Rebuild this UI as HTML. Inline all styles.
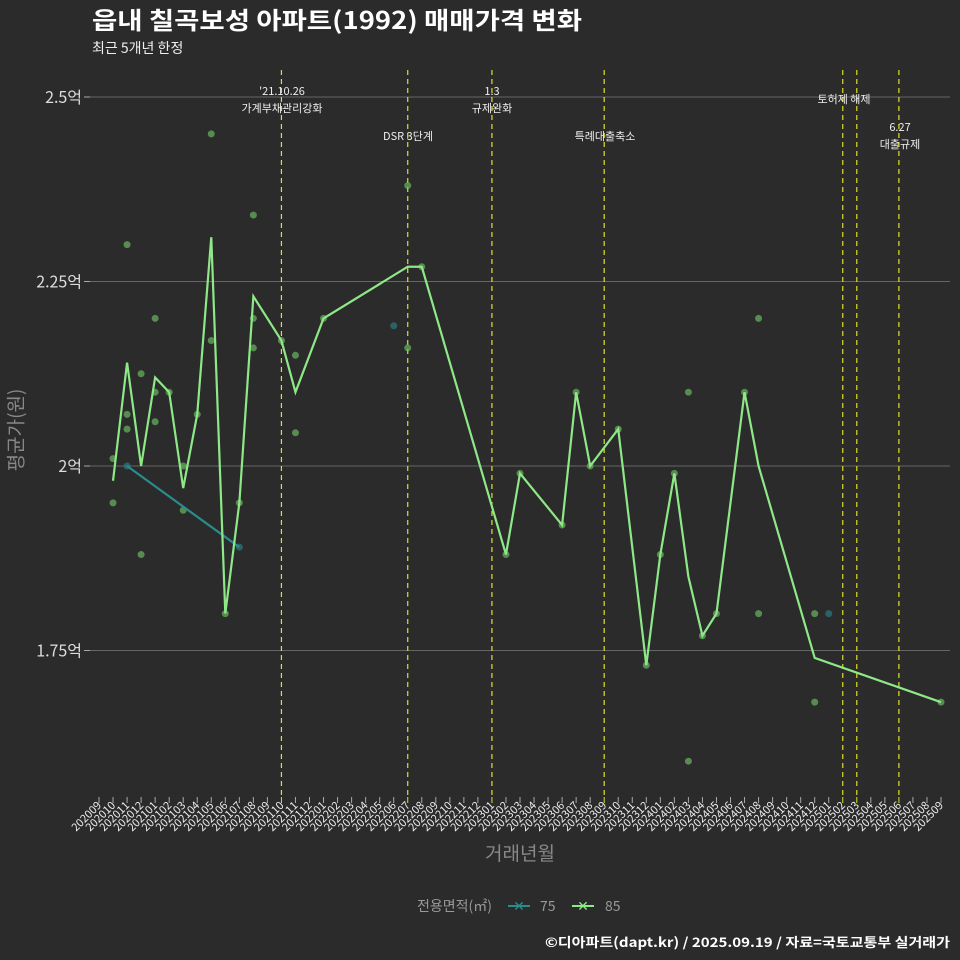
<!DOCTYPE html>
<html><head><meta charset="utf-8">
<style>
body{margin:0;background:#2b2b2b;}
svg{display:block;font-family:"Noto Sans CJK KR","Liberation Sans",sans-serif;}
</style></head>
<body>
<svg id="chart" width="960" height="960" viewBox="0 0 960 960">
<rect width="960" height="960" fill="#2b2b2b"/>
<text x="92" y="29" fill="#fff" font-size="24" font-weight="bold" textLength="490" lengthAdjust="spacingAndGlyphs">읍내 칠곡보성 아파트(1992) 매매가격 변화</text>
<text x="92" y="53" fill="#eee" font-size="14">최근 5개년 한정</text>
<g id="grid"></g>
<g id="events"></g>
<g id="marks"></g>
<g id="xaxis"></g>
<text x="15" y="430" fill="#888" font-size="19" transform="rotate(-90 15 430)" text-anchor="middle" dominant-baseline="central">평균가(원)</text>
<text x="520" y="860" fill="#888" font-size="19" text-anchor="middle">거래년월</text>
<g>
<text x="417" y="911" fill="#999" font-size="14">전용면적(㎡)</text>
<g><line x1="508" y1="906" x2="530" y2="906" stroke="#2a8c8c" stroke-width="2"/><text x="519" y="911" fill="#2a8c8c" font-size="14" text-anchor="middle">✕</text><text x="540" y="911" fill="#999" font-size="14">75</text></g>
<g><line x1="572" y1="906" x2="594" y2="906" stroke="#8ee887" stroke-width="2"/><text x="583" y="911" fill="#8ee887" font-size="14" text-anchor="middle">✕</text><text x="605" y="911" fill="#999" font-size="14">85</text></g>
</g>
<text x="950" y="947" fill="#fff" font-size="13" font-weight="bold" text-anchor="end" textLength="405" lengthAdjust="spacingAndGlyphs">©디아파트(dapt.kr) / 2025.09.19 / 자료=국토교통부 실거래가</text>
</svg>
<script>
const months=[];for(let y=2020;y<=2025;y++)for(let m=1;m<=12;m++){const v=y*100+m;if(v>=202009&&v<=202509)months.push(String(v));}
const yTicks=[1.75,2,2.25,2.5];
const yTickLabels=["1.75억","2억","2.25억","2.5억"];
const line85Idx=[1,2,3,4,5,6,7,8,9,10,11,13,14,16,22,23,29,30,33,34,35,37,39,40,41,42,43,44,46,47,51,60];
const line85Val=[1.98,2.14,2.0,2.12,2.10,1.97,2.07,2.31,1.80,1.95,2.23,2.17,2.10,2.20,2.27,2.27,1.88,1.99,1.92,2.10,2.0,2.05,1.73,1.88,1.99,1.85,1.77,1.80,2.10,2.0,1.74,1.68];
const pts85Idx=[1,1,2,2,2,3,3,4,4,4,5,6,6,7,8,8,9,10,11,11,11,13,14,14,16,22,22,23,29,30,33,34,35,37,39,40,41,42,42,43,44,46,47,47,51,51,60];
const pts85Val=[2.01,1.95,2.30,2.07,2.05,2.125,1.88,2.2,2.1,2.06,2.1,2.0,1.94,2.07,2.45,2.17,1.80,1.95,2.34,2.2,2.16,2.17,2.15,2.045,2.2,2.38,2.16,2.27,1.88,1.99,1.92,2.10,2.0,2.05,1.73,1.88,1.99,2.10,1.60,1.77,1.80,2.10,2.2,1.80,1.80,1.68,1.68];
const line75Idx=[2,10];
const line75Val=[2.0,1.89];
const pts75Idx=[2,10,21,52];
const pts75Val=[2.0,1.89,2.19,1.80];
const eventIdx=[13,22,28,36,53,54,57];
const NS="http://www.w3.org/2000/svg";
const x=i=>99+i*(941-99)/60;
const y=v=>466-(v-2)*738;
function mk(tag,attrs,parent,txt){const e=document.createElementNS(NS,tag);for(const k in attrs)e.setAttribute(k,attrs[k]);if(txt!==undefined)e.textContent=txt;parent.appendChild(e);return e;}
const grid=document.getElementById('grid'),ev=document.getElementById('events'),marks=document.getElementById('marks'),xa=document.getElementById('xaxis');
yTicks.forEach((t,k)=>{
 const g=mk('line',{x1:90,x2:950,y1:y(t),y2:y(t),stroke:'#666','stroke-width':1},grid);
 
 
 mk('line',{x1:84,x2:90,y1:y(t),y2:y(t),stroke:'#aaa'},grid);
 const l=mk('text',{x:82,y:y(t)+6,fill:'#ddd','font-size':16,'text-anchor':'end'},grid,yTickLabels[k]);
 
 
});
months.forEach((m,i)=>{
 mk('line',{x1:x(i),x2:x(i),y1:797,y2:803,stroke:eventIdx.includes(i)?'#dde02a':'#aaa'},xa);
 const t=mk('text',{x:x(i)+3,y:806,fill:'#eee','font-size':11,'text-anchor':'end',transform:`rotate(-45 ${x(i)+3} 806)`},xa,m);
 
 
});
eventIdx.forEach((i,k)=>{
 const l=mk('line',{x1:x(i),x2:x(i),y1:70,y2:797,stroke:'#dde02a','stroke-width':1.2,'stroke-dasharray':'5,4'},ev);
 
 
});
const ann=[[282,95,"'21.10.26"],[282,112,"가계부채관리강화"],[408,140,"DSR 3단계"],[492,95,"1.3"],[492,112,"규제완화"],[605,140,"특례대출축소"],[844,103,"토허제 해제"],[900,131,"6.27"],[900,148,"대출규제"]];
ann.forEach(a=>{const t=mk('text',{x:a[0],y:a[1],fill:'#eee','font-size':11,'text-anchor':'middle'},ev,a[2]);
 
 });
function pts(idx,val,color,name){idx.forEach((i,k)=>{const c=mk('circle',{cx:x(i),cy:y(val[k]),r:3.5,fill:color,'fill-opacity':0.65},marks);
 
 });}
function line(idx,val,color,name){const p=mk('polyline',{points:idx.map((i,k)=>x(i)+','+y(val[k])).join(' '),fill:'none',stroke:color,'stroke-width':2.2},marks);
 
 }
pts(pts85Idx,pts85Val,'#6fc065','point-85');
pts(pts75Idx,pts75Val,'#2a7f85','point-75');
line(line75Idx,line75Val,'#2a8c8c','line-75');
line(line85Idx,line85Val,'#8ee887','line-85');
</script>
</body></html>
